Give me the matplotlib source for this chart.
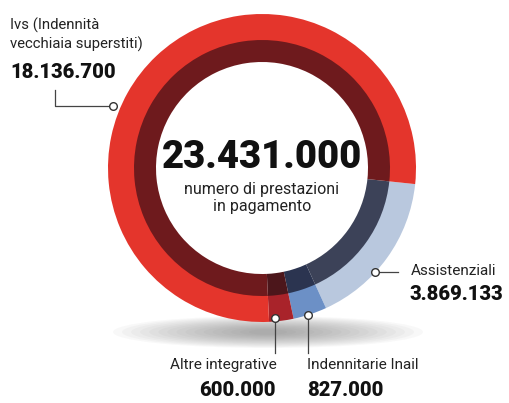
import matplotlib
matplotlib.use("Agg")
import matplotlib.pyplot as plt
from matplotlib.patches import Ellipse

# ---- data ----
categories = ["Assistenziali", "Indennitarie Inail", "Altre integrative",
              "Ivs (Indennità\nvecchiaia superstiti)"]
values = [3869133, 827000, 600000, 18136700]
value_labels = ["3.869.133", "827.000", "600.000", "18.136.700"]
total_label = "23.431.000"
center_caption = "numero di prestazioni\nin pagamento"

outer_colors = ["#b9c8de", "#6c90c6", "#a9232a", "#e4352c"]
inner_colors = ["#3c4258", "#2b3450", "#4c161b", "#6e1a1d"]

W, H = 509, 403
fig = plt.figure(figsize=(W / 100, H / 100), dpi=100)
ax = fig.add_axes([0, 0, 1, 1])


def Y(y):  # image y (top-down) -> data y
    return H - y


narrow = ["Roboto", "DejaVu Sans"]
boldf = ["Roboto", "DejaVu Sans"]

cx, cy = 262, Y(168)

# shadow
for i in range(16):
    f = 1 - i / 16
    ax.add_patch(Ellipse((268, Y(332)), 290 * f + 20, 28 * f + 4,
                         color="#666666", alpha=0.045, lw=0, zorder=0))

start = -6
ax.pie(values, radius=154, center=(cx, cy), colors=outer_colors,
       startangle=start, counterclock=False,
       wedgeprops=dict(width=27, linewidth=0), frame=True)
ax.pie(values, radius=128, center=(cx, cy), colors=inner_colors,
       startangle=start, counterclock=False,
       wedgeprops=dict(width=22, linewidth=0), frame=True)
ax.set_xlim(0, W)
ax.set_ylim(0, H)
ax.set_aspect("equal")
ax.axis("off")

# center text
ax.text(262, Y(157), total_label, ha="center", va="center",
        fontsize=27.5, fontweight="black", family=boldf, color="#111111")
ax.text(262, Y(198), center_caption, ha="center", va="center",
        fontsize=11.5, family=narrow, color="#222222", linespacing=1.2)

lc = "#444444"
mk = dict(marker="o", ms=5.5, mfc="white", mec="#333333", mew=1.0, zorder=5)

# Ivs label
ax.text(10, Y(35), categories[3], ha="left", va="center", fontsize=10.7,
        family=narrow, color="#222222", linespacing=1.35)
ax.text(10, Y(73), value_labels[3], ha="left", va="center", fontsize=14.5,
        fontweight="black", family=boldf, color="#111111")
ax.plot([55, 55, 113], [Y(90), Y(106), Y(106)], color=lc, lw=0.9, zorder=4)
ax.plot([113], [Y(106)], **mk)

# Assistenziali
ax.plot([375, 398], [Y(272), Y(272)], color=lc, lw=0.9, zorder=4)
ax.plot([375], [Y(272)], **mk)
ax.text(411, Y(271), categories[0], ha="left", va="center", fontsize=11,
        family=narrow, color="#222222")
ax.text(410, Y(294), value_labels[0], ha="left", va="center", fontsize=14.5,
        fontweight="black", family=boldf, color="#111111")

# Altre integrative
ax.plot([275, 275], [Y(318), Y(353)], color=lc, lw=0.9, zorder=4)
ax.plot([275], [Y(318)], **mk)
ax.text(277, Y(365), categories[2], ha="right", va="center", fontsize=11,
        family=narrow, color="#222222")
ax.text(276, Y(390), value_labels[2], ha="right", va="center", fontsize=14.5,
        fontweight="black", family=boldf, color="#111111")

# Indennitarie Inail
ax.plot([308, 308], [Y(315), Y(353)], color=lc, lw=0.9, zorder=4)
ax.plot([308], [Y(315)], **mk)
ax.text(307, Y(365), categories[1], ha="left", va="center", fontsize=11,
        family=narrow, color="#222222")
ax.text(307, Y(390), value_labels[1], ha="left", va="center", fontsize=14.5,
        fontweight="black", family=boldf, color="#111111")

fig.savefig("out.png", dpi=100)
